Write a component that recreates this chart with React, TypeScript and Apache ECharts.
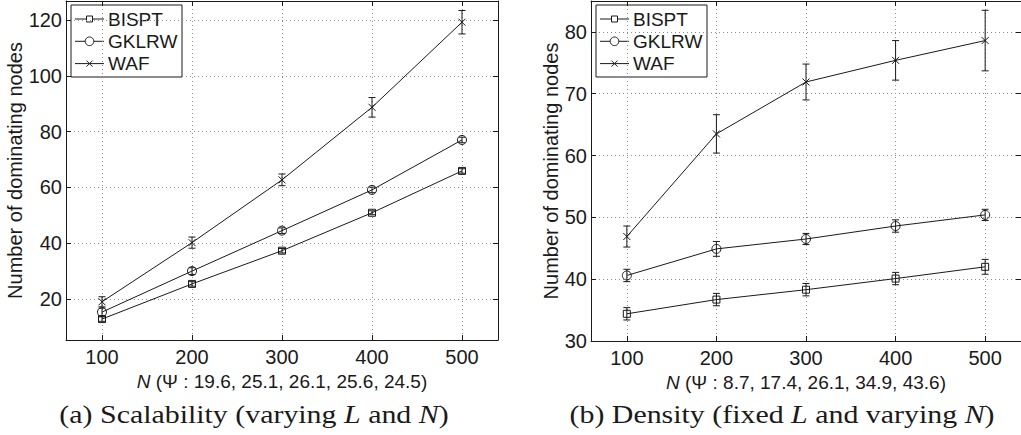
import React, { useEffect, useRef } from "react";
import * as echarts from "echarts";

// Network sizes on the x axis
const nValues = [100, 200, 300, 400, 500];
const xTicks = [100, 200, 300, 400, 500];

// (a) Scalability: mean number of dominating nodes and half-width of error bars
const scalBispt = [12.8, 25.4, 37.3, 50.9, 65.9];
const scalBisptErr = [0.8, 0.8, 0.8, 0.7, 0.8];
const scalGklrw = [15.3, 30.0, 44.5, 59.1, 77.0];
const scalGklrwErr = [1.4, 1.2, 1.0, 1.0, 1.0];
const scalWaf = [19.0, 40.2, 62.7, 88.7, 119.2];
const scalWafErr = [1.8, 2.0, 2.1, 3.5, 4.2];
const scalYTicks = [20, 40, 60, 80, 100, 120];

// (b) Density
const densBispt = [34.4, 36.7, 38.3, 40.1, 42.0];
const densBisptErr = [1.0, 1.0, 1.0, 1.0, 1.2];
const densGklrw = [40.6, 44.9, 46.5, 48.6, 50.4];
const densGklrwErr = [1.0, 1.2, 0.9, 1.0, 0.9];
const densWaf = [46.9, 63.5, 71.9, 75.4, 78.6];
const densWafErr = [1.7, 3.1, 2.9, 3.2, 4.9];
const densYTicks = [30, 40, 50, 60, 70, 80];

const seriesNames = ["BISPT", "GKLRW", "WAF"];
const scalPsi = "19.6, 25.1, 26.1, 25.6, 24.5";
const densPsi = "8.7, 17.4, 26.1, 34.9, 43.6";

const INK = "#1a1a1a";
const SANS = "Arial, 'Liberation Sans', sans-serif";
const SERIF = "'Times New Roman', 'Liberation Serif', serif";
const FS = 20;

const symbols: Record<string, { symbol: string; size: number }> = {
  BISPT: { symbol: "rect", size: 7 },
  GKLRW: { symbol: "circle", size: 9 },
  WAF: { symbol: "path://M0 0L10 10M10 0L0 10", size: 7 },
};

function lineSeries(name: string, values: number[], axis: number) {
  const s = symbols[name];
  return {
    type: "line",
    name,
    xAxisIndex: axis,
    yAxisIndex: axis,
    data: nValues.map((n, i) => [n, values[i]]),
    symbol: s.symbol,
    symbolSize: s.size,
    showAllSymbol: true,
    lineStyle: { color: INK, width: 1 },
    itemStyle: { color: "rgba(0,0,0,0)", borderColor: INK, borderWidth: 1 },
    emphasis: { disabled: true },
    z: 3,
  };
}

function errorSeries(values: number[], errs: number[], axis: number) {
  return {
    type: "custom",
    xAxisIndex: axis,
    yAxisIndex: axis,
    data: nValues.map((n, i) => [n, values[i] - errs[i], values[i] + errs[i]]),
    encode: { x: 0, y: [1, 2] },
    silent: true,
    z: 4,
    renderItem: (_params: any, api: any) => {
      const x = api.value(0);
      const lo = api.coord([x, api.value(1)]);
      const hi = api.coord([x, api.value(2)]);
      const w = 3.5;
      const style = { stroke: INK, lineWidth: 1 };
      return {
        type: "group",
        children: [
          { type: "line", shape: { x1: lo[0], y1: lo[1], x2: hi[0], y2: hi[1] }, style },
          { type: "line", shape: { x1: lo[0] - w, y1: lo[1], x2: lo[0] + w, y2: lo[1] }, style },
          { type: "line", shape: { x1: hi[0] - w, y1: hi[1], x2: hi[0] + w, y2: hi[1] }, style },
        ],
      };
    },
  };
}

const tickStyle = { show: true, inside: true, length: 5, lineStyle: { color: INK, width: 1 } };
const lineAxis = { show: true, onZero: false, lineStyle: { color: INK, width: 1 } };
const gridLines = { show: true, lineStyle: { color: "#8c8c8c", width: 1, type: [1, 3] as any } };

function xAxes(grid: number, psi: string) {
  const main = {
    type: "value",
    gridIndex: grid,
    min: 60,
    max: 540,
    position: "bottom",
    axisLine: lineAxis,
    axisTick: { ...tickStyle, customValues: xTicks },
    axisLabel: { customValues: xTicks, fontSize: FS, fontFamily: SANS, color: INK, margin: 7 },
    splitLine: gridLines,
    name: "{i|N} (Ψ : " + psi + ")",
    nameLocation: "middle",
    nameGap: 25,
    nameTextStyle: {
      fontSize: FS - 1,
      fontFamily: SANS,
      color: INK,
      verticalAlign: "top",
      rich: { i: { fontStyle: "italic", fontSize: FS - 1, fontFamily: SANS, color: INK } },
    },
  };
  const mirror = {
    type: "value",
    gridIndex: grid,
    min: 60,
    max: 540,
    position: "top",
    axisLine: lineAxis,
    axisTick: { ...tickStyle, customValues: xTicks },
    axisLabel: { show: false },
    splitLine: { show: false },
  };
  return [main, mirror];
}

function yAxes(grid: number, min: number, max: number, ticks: number[], gap: number) {
  const main = {
    type: "value",
    gridIndex: grid,
    min,
    max,
    position: "left",
    axisLine: lineAxis,
    axisTick: { ...tickStyle, customValues: ticks },
    axisLabel: { customValues: ticks, fontSize: FS, fontFamily: SANS, color: INK, margin: 4 },
    splitLine: gridLines,
    name: "Number of dominating nodes",
    nameLocation: "middle",
    nameGap: gap,
    nameTextStyle: { fontSize: FS, fontFamily: SANS, color: INK },
  };
  const mirror = {
    type: "value",
    gridIndex: grid,
    min,
    max,
    position: "right",
    axisLine: lineAxis,
    axisTick: { ...tickStyle, customValues: ticks },
    axisLabel: { show: false },
    splitLine: { show: false },
  };
  return [main, mirror];
}

// Boxed legend in the upper-left corner of a panel: a short line with the
// series marker in its middle, followed by the series name.
function legendBox(left: number, top: number) {
  const stroke = { stroke: INK, lineWidth: 1, fill: "none" };
  const children: any[] = [
    {
      type: "rect",
      shape: { x: left, y: top, width: 111, height: 72 },
      style: { fill: "#fff", stroke: INK, lineWidth: 1 },
    },
  ];
  seriesNames.forEach((name, i) => {
    const cy = top + 14 + i * 22.3;
    const x0 = left + 4;
    const x1 = left + 33;
    const cx = (x0 + x1) / 2;
    children.push({ type: "line", shape: { x1: x0, y1: cy, x2: x1, y2: cy }, style: stroke });
    if (name === "BISPT") {
      children.push({
        type: "rect",
        shape: { x: cx - 3, y: cy - 3, width: 6, height: 6 },
        style: { ...stroke, fill: "#fff" },
      });
    } else if (name === "GKLRW") {
      children.push({ type: "circle", shape: { cx, cy, r: 4.3 }, style: { ...stroke, fill: "#fff" } });
    } else {
      children.push({ type: "line", shape: { x1: cx - 3, y1: cy - 3, x2: cx + 3, y2: cy + 3 }, style: stroke });
      children.push({ type: "line", shape: { x1: cx - 3, y1: cy + 3, x2: cx + 3, y2: cy - 3 }, style: stroke });
    }
    children.push({
      type: "text",
      x: left + 37,
      y: cy,
      style: {
        text: name,
        fill: INK,
        fontSize: 19,
        fontFamily: SANS,
        align: "left",
        verticalAlign: "middle",
      },
    });
  });
  return { type: "group", z: 10, children };
}

function caption(text: string, x: number) {
  return {
    type: "text",
    x,
    y: 414,
    scaleX: 1.15,
    style: {
      text,
      fill: INK,
      fontSize: 26,
      fontFamily: SERIF,
      align: "center",
      verticalAlign: "middle",
      rich: { i: { fontStyle: "italic", fontSize: 26, fontFamily: SERIF, fill: INK } },
    },
  };
}

function buildOption() {
  return {
    animation: false,
    backgroundColor: "#fff",
    grid: [
      { left: 66, top: 1, width: 432, height: 339 },
      { left: 591, top: 1, width: 431, height: 340 },
    ],
    xAxis: [...xAxes(0, scalPsi), ...xAxes(1, densPsi)],
    yAxis: [
      ...yAxes(0, 5.3, 126.8, scalYTicks, 41),
      ...yAxes(1, 30, 85, densYTicks, 28),
    ],
    series: [
      lineSeries("BISPT", scalBispt, 0),
      lineSeries("GKLRW", scalGklrw, 0),
      lineSeries("WAF", scalWaf, 0),
      errorSeries(scalBispt, scalBisptErr, 0),
      errorSeries(scalGklrw, scalGklrwErr, 0),
      errorSeries(scalWaf, scalWafErr, 0),
      lineSeries("BISPT", densBispt, 2),
      lineSeries("GKLRW", densGklrw, 2),
      lineSeries("WAF", densWaf, 2),
      errorSeries(densBispt, densBisptErr, 2),
      errorSeries(densGklrw, densGklrwErr, 2),
      errorSeries(densWaf, densWafErr, 2),
    ],
    graphic: [
      legendBox(71, 5),
      legendBox(596, 5),
      caption("(a) Scalability (varying {i|L} and {i|N})", 254),
      caption("(b) Density (fixed {i|L} and varying {i|N})", 782),
    ],
  };
}

export default function App() {
  const ref = useRef<HTMLDivElement>(null);
  useEffect(() => {
    if (!ref.current) return;
    const chart = echarts.init(ref.current, null, { renderer: "svg" });
    chart.setOption(buildOption() as any);
    return () => chart.dispose();
  }, []);
  return (
    <div
      ref={ref}
      style={{ position: "fixed", left: 0, top: 0, width: 1021, height: 435, background: "#fff" }}
    />
  );
}
